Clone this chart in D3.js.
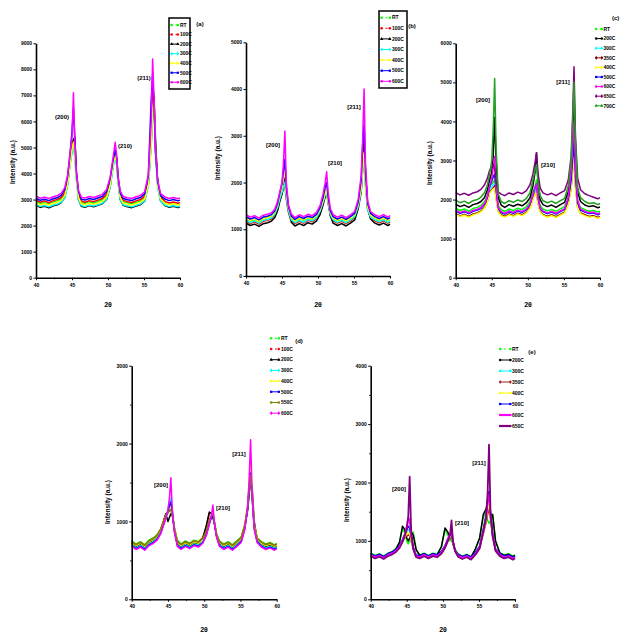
<!DOCTYPE html>
<html><head><meta charset="utf-8">
<script src="https://cdn.jsdelivr.net/npm/d3@7"></script>
<style>body{margin:0;background:#fff} svg{display:block} text{font-family:"Liberation Sans",Arial,sans-serif;font-weight:bold}</style>
</head><body><svg id="c" width="620" height="635"></svg>
<script>
// ---------- shared data ----------
const twoTheta = [40,40.6,41.2,41.8,42.4,43,43.5,44,44.4,44.7,45,45.2,45.4,45.6,45.9,46.3,46.8,47.4,48,48.6,49.2,49.8,50.3,50.7,51,51.2,51.4,51.7,52.1,52.7,53.3,53.9,54.5,55.1,55.6,56,56.2,56.4,56.6,56.9,57.3,57.9,58.5,59.1,59.7,60];
const xTickLabels = ["40","45","50","55","60"];
const panelLetters = ["(a)","(b)","(c)","(d)","(e)"];
const peakLabelsA = ["(200)","(210)","(211)"];
const peakLabelsB = ["[200]","[210]","[211]"];

// ---------- panel (a) ----------
const seriesA = ["RT","100C","200C","300C","400C","500C","600C"];
const yTicksA = [0,1000,2000,3000,4000,5000,6000,7000,8000,9000];
const a_RT   = [2920,2850,2880,2830,2900,2960,3020,3200,3650,4300,4800,5000,4700,3900,3150,2880,2850,2910,2860,2930,2990,3150,3600,4300,4700,4400,3700,3100,2920,2870,2840,2900,2950,3080,3600,5200,6400,7000,5000,3600,3050,2880,2820,2860,2800,2830];
const a_100C = [2980,2900,2950,2880,2960,3010,3080,3260,3720,4400,5000,5300,4800,3950,3200,2940,2900,2960,2920,2980,3040,3200,3650,4400,4800,4500,3750,3150,2970,2920,2890,2950,3000,3130,3700,5600,7300,6900,4900,3650,3100,2930,2870,2910,2860,2880];
const a_200C = [2780,2700,2740,2680,2760,2800,2880,3080,3600,4350,5000,5300,5400,4000,3000,2740,2700,2770,2720,2780,2840,3000,3500,4300,4700,4600,3800,3000,2780,2720,2690,2750,2800,2950,3600,5200,6300,6700,5300,3600,2950,2770,2700,2740,2690,2720];
const a_300C = [2800,2740,2770,2720,2790,2830,2900,3070,3550,4250,4850,5100,4600,3750,3000,2770,2730,2790,2750,2800,2860,3010,3480,4200,4600,4350,3600,3000,2800,2750,2720,2780,2830,2960,3500,5000,6300,6500,4700,3450,2950,2790,2730,2770,2720,2750];
const a_400C = [2870,2800,2840,2790,2860,2900,2970,3150,3620,4300,4950,5200,4700,3850,3080,2840,2800,2860,2820,2870,2930,3090,3560,4300,4700,4450,3700,3080,2870,2820,2790,2850,2900,3030,3580,5100,6500,6800,4900,3550,3020,2860,2800,2840,2790,2820];
const a_500C = [3050,2970,3010,2960,3030,3080,3160,3380,3900,4700,5600,6500,5300,4100,3300,3010,2980,3040,3000,3060,3120,3300,3800,4500,4900,4600,3850,3250,3040,2990,2960,3030,3080,3220,3900,6800,7800,6600,4800,3700,3150,3020,2960,3000,2950,2980];
const a_600C = [3130,3050,3090,3040,3110,3160,3240,3450,3950,4700,5400,7100,5200,4100,3350,3090,3060,3120,3080,3140,3200,3380,3850,4600,5200,4700,3900,3320,3120,3070,3040,3110,3160,3300,3950,6000,8400,6800,4900,3750,3230,3100,3040,3080,3030,3060];

// ---------- panel (b) ----------
const seriesB = ["RT","100C","200C","300C","400C","500C","600C"];
const yTicksB = [0,1000,2000,3000,4000,5000];
const b_RT   = [1230,1180,1210,1160,1220,1250,1270,1350,1500,1680,1800,1900,2000,1700,1420,1240,1170,1230,1190,1240,1210,1280,1420,1600,1780,1850,1600,1350,1230,1180,1220,1170,1230,1300,1550,1950,2500,3000,2100,1500,1300,1230,1190,1230,1180,1210];
const b_100C = [1180,1120,1160,1110,1170,1190,1220,1300,1450,1640,1780,1880,1950,1640,1360,1180,1120,1170,1130,1190,1160,1230,1370,1550,1720,1800,1560,1300,1180,1130,1170,1120,1180,1250,1500,1850,2300,2700,1950,1420,1250,1180,1140,1180,1130,1160];
const b_200C = [1130,1080,1110,1060,1120,1140,1170,1250,1400,1600,1750,1900,2100,1800,1400,1150,1070,1120,1080,1140,1110,1180,1320,1520,1700,1850,1650,1300,1130,1080,1120,1070,1130,1200,1450,1800,2300,3000,2200,1450,1220,1130,1090,1130,1080,1110];
const b_300C = [1200,1140,1180,1130,1190,1210,1240,1320,1470,1650,1790,1900,2000,1680,1390,1200,1140,1190,1150,1210,1180,1250,1390,1570,1730,1800,1580,1320,1200,1150,1190,1140,1200,1270,1500,1830,2250,2600,1900,1420,1260,1200,1160,1200,1150,1180];
const b_400C = [1240,1190,1220,1170,1230,1250,1280,1360,1520,1720,1900,2100,2300,1800,1450,1250,1180,1240,1200,1250,1220,1290,1430,1610,1770,1850,1620,1360,1240,1190,1230,1180,1240,1310,1550,1880,2300,2650,1950,1480,1300,1240,1200,1240,1190,1220];
const b_500C = [1270,1220,1250,1200,1260,1280,1310,1390,1560,1780,1980,2250,2500,1900,1480,1280,1210,1270,1230,1280,1250,1320,1470,1680,1900,2000,1700,1400,1270,1220,1260,1210,1270,1340,1600,2050,2800,3250,2200,1550,1340,1270,1230,1270,1220,1250];
const b_600C = [1310,1260,1290,1240,1300,1320,1350,1430,1600,1800,2000,2400,3100,2000,1520,1320,1250,1310,1270,1320,1290,1360,1510,1750,2000,2230,1800,1450,1310,1260,1300,1250,1310,1380,1650,2150,2900,4000,2400,1600,1380,1310,1270,1310,1260,1290];

// ---------- panel (c) ----------
const seriesC = ["RT","200C","300C","350C","400C","500C","600C","650C","700C"];
const yTicksC = [0,1000,2000,3000,4000,5000,6000];
const c_RT   = [1780,1720,1760,1700,1770,1800,1850,1950,2100,2350,2400,2450,2500,2200,1850,1740,1700,1760,1720,1780,1740,1820,1950,2200,2350,2500,2150,1850,1760,1710,1750,1700,1760,1820,2050,2500,2950,3400,2500,1950,1800,1740,1700,1720,1680,1700];
const c_200C = [1880,1820,1860,1800,1870,1900,1950,2050,2250,2500,2700,3100,4100,3000,2050,1860,1800,1870,1830,1880,1840,1920,2050,2350,2700,3200,2500,2000,1870,1820,1860,1800,1870,1930,2200,2800,3500,4700,3300,2200,1950,1860,1820,1840,1790,1810];
const c_300C = [1720,1660,1700,1650,1710,1740,1790,1880,2040,2260,2330,2380,2400,2100,1780,1690,1640,1710,1670,1730,1690,1760,1880,2100,2220,2300,2000,1780,1700,1650,1690,1640,1700,1760,1980,2400,2850,3300,2450,1900,1740,1690,1650,1670,1620,1650];
const c_350C = [1640,1580,1620,1570,1630,1660,1710,1800,1960,2180,2250,2300,2350,2050,1700,1610,1570,1630,1590,1650,1610,1680,1800,2020,2140,2200,1920,1700,1620,1570,1610,1560,1620,1680,1900,2300,2750,3200,2350,1820,1660,1610,1570,1590,1540,1570];
const c_400C = [1620,1570,1600,1550,1610,1640,1690,1780,1940,2160,2230,2270,2300,2020,1680,1590,1550,1610,1570,1630,1590,1660,1780,2000,2130,2200,1900,1680,1600,1550,1590,1540,1600,1660,1880,2280,2700,3100,2300,1800,1640,1590,1550,1570,1520,1550];
const c_500C = [1710,1650,1690,1640,1700,1730,1780,1880,2060,2320,2480,2580,2650,2250,1780,1670,1630,1690,1650,1710,1670,1740,1870,2120,2300,2400,2050,1780,1690,1640,1680,1630,1690,1750,2000,2500,3000,3500,2600,1920,1730,1680,1640,1660,1610,1640];
const c_600C = [1730,1670,1710,1660,1720,1750,1800,1900,2080,2350,2550,2800,3100,2300,1800,1690,1650,1710,1670,1730,1690,1760,1890,2130,2300,2400,2050,1790,1710,1660,1700,1650,1710,1770,2050,2700,3300,4000,2800,1980,1760,1700,1660,1680,1630,1660];
const c_650C = [2180,2120,2160,2110,2170,2200,2260,2380,2550,2750,2850,2900,2800,2450,2200,2140,2100,2170,2130,2190,2150,2230,2380,2650,2950,3200,2700,2300,2170,2120,2160,2100,2170,2230,2500,3100,4100,5400,3600,2550,2250,2150,2100,2060,2020,2050];
const c_700C = [1980,1920,1960,1900,1970,2000,2060,2180,2380,2650,3000,3800,5100,3300,2150,1950,1900,1970,1930,1990,1950,2030,2180,2500,2750,2900,2450,2100,1970,1920,1960,1900,1970,2030,2350,3000,3900,5000,3500,2300,2050,1950,1900,1920,1870,1900];

// ---------- panel (d) ----------
const seriesD = ["RT","100C","200C","300C","400C","500C","550C","600C"];
const yTicksD = [0,1000,2000,3000];
const d_RT   = [750,710,740,700,760,790,830,900,1000,1080,1120,1170,1200,1120,920,760,710,750,720,760,740,790,880,1000,1070,1100,1000,850,750,710,740,700,750,800,960,1200,1420,1600,1350,950,790,740,710,730,700,720];
const d_100C = [740,700,730,690,750,780,820,900,1010,1080,1110,1140,1150,1100,900,740,700,740,710,750,730,790,930,1100,1110,1080,980,830,740,700,730,690,740,790,950,1200,1450,1650,1380,950,780,730,700,720,690,710];
const d_200C = [720,680,710,670,730,760,800,880,1000,1100,1000,1050,1100,1080,900,720,680,720,690,730,710,780,950,1120,1100,1050,980,820,720,680,710,670,720,770,930,1150,1350,1500,1450,1000,770,710,680,700,670,690];
const d_300C = [700,660,690,650,710,740,780,860,970,1060,1150,1250,1300,1150,880,700,660,700,670,710,690,740,840,980,1060,1100,990,820,700,660,690,650,700,750,920,1180,1420,1600,1320,920,750,690,660,680,650,670];
const d_400C = [730,690,720,680,740,770,810,890,990,1070,1120,1170,1200,1110,910,730,690,730,700,740,720,770,860,990,1060,1100,1000,840,730,690,720,680,730,780,950,1230,1500,1780,1400,960,780,720,690,710,680,700];
const d_500C = [690,650,680,640,700,730,770,850,960,1050,1130,1200,1250,1120,870,690,650,690,660,700,680,730,830,970,1050,1080,980,810,690,650,680,640,690,740,910,1170,1420,1620,1330,910,740,680,650,670,640,660];
const d_550C = [740,700,730,690,750,780,820,900,1000,1070,1110,1140,1150,1090,900,740,700,740,710,750,730,780,880,1020,1080,1100,990,840,740,700,730,690,740,790,950,1190,1420,1600,1340,940,780,730,700,720,690,710];
const d_600C = [680,640,670,630,690,720,760,840,950,1040,1150,1300,1560,1150,860,680,640,680,650,690,670,720,820,960,1080,1210,1000,800,680,640,670,630,680,730,900,1200,1550,2050,1400,900,730,670,640,660,630,650];

// ---------- panel (e) ----------
const seriesE = ["RT","200C","300C","350C","400C","500C","600C","650C"];
const yTicksE = [0,1000,2000,3000,4000];
const e_RT   = [790,750,780,740,790,820,870,980,1200,1150,1000,950,1000,1100,1150,850,760,790,750,790,770,900,1200,1100,1000,1050,950,850,780,740,770,730,850,1050,1400,1500,1350,1300,1350,1450,1000,800,760,780,740,760];
const e_200C = [780,740,770,730,780,810,860,980,1250,1200,1050,1000,1050,1150,1100,850,750,780,740,780,760,900,1220,1150,1050,1100,950,840,770,730,760,720,860,1050,1450,1550,1700,1750,1450,1450,1000,790,750,770,730,750];
const e_300C = [760,720,750,710,760,790,830,900,1000,1080,1150,1200,1180,1050,880,740,720,760,720,760,740,800,900,1020,1100,1080,980,830,750,710,740,700,780,900,1150,1350,1500,1600,1400,1100,850,760,720,740,700,720];
const e_350C = [770,730,760,720,770,800,840,900,990,1050,1080,1100,1090,1000,860,750,730,770,730,770,750,810,900,1000,1050,1040,960,830,760,720,750,710,790,900,1120,1320,1450,1550,1380,1080,850,770,730,750,710,730];
const e_400C = [750,710,740,700,750,780,820,890,980,1060,1120,1150,1130,1020,870,730,710,750,710,750,730,790,890,1000,1080,1060,970,820,740,700,730,690,770,880,1130,1350,1520,1650,1420,1090,840,750,710,730,690,710];
const e_500C = [780,740,770,730,780,810,850,920,1020,1110,1200,1250,1220,1080,890,760,740,780,740,780,760,820,920,1040,1100,1090,990,840,770,730,760,720,800,910,1200,1450,1700,1850,1500,1120,860,780,740,760,720,740];
const e_600C = [760,720,750,710,760,790,830,900,1000,1100,1250,1400,1350,1100,880,740,720,760,720,760,740,800,900,1030,1120,1150,1000,830,750,710,740,700,780,890,1170,1400,1650,1800,1450,1100,850,760,720,740,700,720];
const e_650C = [740,700,730,690,740,770,810,880,980,1080,1200,1400,2100,1200,860,720,700,740,700,740,720,780,880,1000,1100,1350,1000,820,730,690,720,680,760,870,1150,1400,1800,2650,1500,1080,830,740,700,720,680,700];

// ---------- styles / layout ----------
const colorsA = ["#00ff00","#ff0000","#000000","#00ffff","#ffff00","#0000ff","#ff00ff"];
const colorsC = ["#00ff00","#000000","#00ffff","#800000","#ffff00","#0000ff","#ff00ff","#800080","#22a022"];
const colorsD = ["#00ff00","#ff0000","#000000","#00ffff","#ffff00","#0000ff","#808000","#ff00ff"];
const colorsE = ["#00ff00","#000000","#00ffff","#a02020","#ffff00","#0000ff","#ff00ff","#800080"];

const panels = [
 {names:seriesA, data:[a_RT,a_100C,a_200C,a_300C,a_400C,a_500C,a_600C], colors:colorsA, yTicks:yTicksA, minor:false,
  x0:36, x1:180, yt:43.3, yb:277.7, peaks:peakLabelsA, peakPos:[[62,117],[125,146],[144,78]],
  letter:[200,24,"middle"], ylab:[13,162], xlab:[108,305],
  legend:{box:[169,18,21,71], y0:25, dy:9.55, lx0:170.5, lx1:179, tx:180}},
 {names:seriesB, data:[b_RT,b_100C,b_200C,b_300C,b_400C,b_500C,b_600C], colors:colorsA, yTicks:yTicksB, minor:false,
  x0:246, x1:390, yt:42.3, yb:276, peaks:peakLabelsB, peakPos:[[273,145],[335,163],[354,107]],
  letter:[412,26,"middle"], ylab:[218,158], xlab:[318,305],
  legend:{box:[379,11,28,77], y0:17.7, dy:10.6, lx0:380.5, lx1:391, tx:392}},
 {names:seriesC, data:[c_RT,c_200C,c_300C,c_350C,c_400C,c_500C,c_600C,c_650C,c_700C], colors:colorsC, yTicks:yTicksC, minor:false,
  x0:455.7, x1:600, yt:43.3, yb:277.7, peaks:peakLabelsB, peakPos:[[483,100],[548,165],[563,82]],
  letter:[612,18,"start"], ylab:[430,163], xlab:[528,305],
  legend:{box:null, y0:29, dy:9.6, lx0:595, lx1:603, tx:603.5}},
 {names:seriesD, data:[d_RT,d_100C,d_200C,d_300C,d_400C,d_500C,d_550C,d_600C], colors:colorsD, yTicks:yTicksD, minor:true,
  x0:131.7, x1:276.7, yt:365.7, yb:599.3, peaks:peakLabelsB, peakPos:[[161,485],[223,508],[239,454]],
  letter:[299,341,"middle"], ylab:[108,502], xlab:[204,630],
  legend:{box:null, y0:338.3, dy:10.7, lx0:270, lx1:280, tx:281}},
 {names:seriesE, data:[e_RT,e_200C,e_300C,e_350C,e_400C,e_500C,e_600C,e_650C], colors:colorsE, yTicks:yTicksE, minor:true,
  x0:370.7, x1:515, yt:365.7, yb:599.3, peaks:peakLabelsB, peakPos:[[399,489],[462,523],[479,463]],
  letter:[532,352,"middle"], ylab:[347,500], xlab:[443,630], thick:[6,7],
  legend:{box:null, y0:349, dy:11, lx0:499, lx1:511.5, tx:512}}
];
const symbols = [d3.symbolSquare,d3.symbolCircle,d3.symbolTriangle,d3.symbolDiamond,d3.symbolTriangle,d3.symbolSquare,d3.symbolCircle,d3.symbolDiamond,d3.symbolTriangle];

const svg = d3.select("#c");
panels.forEach((p,pi) => {
  const xTicks = xTickLabels.map(Number);
  const yMax = p.yTicks[p.yTicks.length-1];
  const x = d3.scaleLinear().domain([xTicks[0], xTicks[xTicks.length-1]]).range([p.x0,p.x1]);
  const y = d3.scaleLinear().domain([0,yMax]).range([p.yb,p.yt]);
  const g = svg.append("g");
  const line = d3.line().x((d,i)=>x(twoTheta[i])).y(d=>y(d));
  p.data.forEach((vals,k)=>{
    const thick = p.thick && p.thick.includes(k);
    g.append("path").attr("d",line(vals)).attr("fill","none")
      .attr("stroke",p.colors[k]).attr("stroke-width",thick?1.8:1.5).attr("stroke-linejoin","round");
  });
  // axes
  g.append("g").attr("transform",`translate(${p.x0},0)`)
    .call(d3.axisLeft(y).tickValues(p.yTicks).tickSize(2.5).tickSizeOuter(0).tickPadding(1.5).tickFormat(d3.format("d")));
  if (p.minor) {
    const step = p.yTicks[1]-p.yTicks[0];
    g.append("g").attr("transform",`translate(${p.x0},0)`)
      .call(d3.axisLeft(y).tickValues(p.yTicks.slice(0,-1).map(v=>v+step/2)).tickSize(1.5).tickSizeOuter(0).tickFormat(""))
      .select(".domain").remove();
  }
  g.append("g").attr("transform",`translate(0,${p.yb})`)
    .call(d3.axisBottom(x).tickValues(xTicks).tickSize(2.5).tickSizeOuter(0).tickPadding(3).tickFormat((d,i)=>xTickLabels[i]));
  g.append("g").attr("transform",`translate(0,${p.yb})`)
    .call(d3.axisBottom(x).tickValues(xTicks.slice(0,-1).map(v=>v+2.5)).tickSize(1.5).tickSizeOuter(0).tickFormat(""))
    .select(".domain").remove();
  g.selectAll(".domain").attr("stroke","#000").attr("stroke-width",1.6);
  g.selectAll(".tick line").attr("stroke","#000").attr("stroke-width",1);
  g.selectAll(".tick text").attr("font-size",5).attr("font-weight","bold").attr("fill","#000");
  // labels
  g.append("text").attr("transform",`translate(${p.ylab[0]},${p.ylab[1]}) rotate(-90)`)
    .attr("text-anchor","middle").attr("dy","0.35em").attr("font-size",6.5).text("Intensity (a.u.)");
  g.append("text").attr("x",p.xlab[0]).attr("y",p.xlab[1]).attr("text-anchor","middle").attr("dy","0.35em")
    .attr("font-size",7).text("2θ");
  p.peaks.forEach((t,i)=>{
    g.append("text").attr("x",p.peakPos[i][0]).attr("y",p.peakPos[i][1]).attr("text-anchor","middle")
      .attr("dy","0.35em").attr("font-size",6).attr("font-weight","normal").text(t);
  });
  g.append("text").attr("x",p.letter[0]).attr("y",p.letter[1]).attr("text-anchor",p.letter[2])
    .attr("dy","0.35em").attr("font-size",6).text(panelLetters[pi]);
  // legend
  const L = p.legend;
  if (L.box) g.append("rect").attr("x",L.box[0]).attr("y",L.box[1]).attr("width",L.box[2]).attr("height",L.box[3])
      .attr("fill","none").attr("stroke","#000").attr("stroke-width",1.5);
  p.names.forEach((nm,k)=>{
    const yy = L.y0 + k*L.dy;
    const thick = p.thick && p.thick.includes(k);
    g.append("line").attr("x1",L.lx0).attr("x2",L.lx1).attr("y1",yy).attr("y2",yy)
      .attr("stroke",p.colors[k]).attr("stroke-width",thick?2.2:1)
      .attr("stroke-dasharray", (!thick && (k===0 || (k===1 && pi!==2 && pi!==4))) ? "2,3" : null);
    if (!thick) {
      [L.lx0+1.2, L.lx1-1.2].forEach(sx=>{
        g.append("path").attr("d",d3.symbol().type(symbols[k]).size(5)())
          .attr("transform",`translate(${sx},${yy})`).attr("fill",p.colors[k]);
      });
    }
    g.append("text").attr("x",L.tx).attr("y",yy).attr("dy","0.35em").attr("font-size",5).text(nm);
  });
});
</script></body></html>
